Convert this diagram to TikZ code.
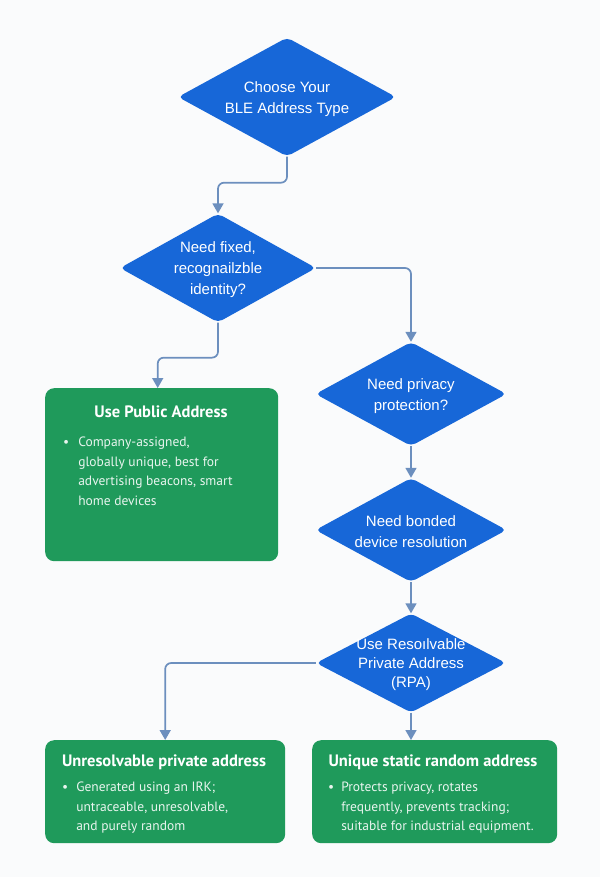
\documentclass[tikz,border=0pt]{standalone}
\usepackage{fontspec}
\setmainfont{Liberation Sans}
\newfontfamily\boxfont{PT Sans}
\usetikzlibrary{positioning,shapes.geometric,arrows.meta}

\definecolor{askblue}{HTML}{1767D8}
\definecolor{pickgreen}{HTML}{1F9A5B}
\definecolor{linkblue}{HTML}{6C8FBE}
\definecolor{paper}{HTML}{FAFBFC}

\begin{document}
\begin{tikzpicture}[x=1pt, y=-1pt,
  question/.style={diamond, aspect=1.8, fill=askblue, rounded corners=5pt,
    inner sep=0pt, text=white, align=center,
    font=\fontsize{15}{21}\selectfont},
  choice/.style={rectangle, fill=pickgreen, rounded corners=9pt, anchor=north west},
  choicetitle/.style={text=white, font=\boxfont\bfseries\fontsize{16.5}{19}\selectfont},
  choicetext/.style={text=white!90!pickgreen, anchor=north west, inner sep=0pt,
    align=left, font=\boxfont\fontsize{13.5}{19.5}\selectfont},
  link/.style={draw=linkblue, line width=1.7pt, rounded corners=6pt,
    -{Triangle[width=11pt,length=10pt]}}]

  \fill[paper] (0,0) rectangle (600,877);
  \useasboundingbox (0,0) rectangle (600,877);

  % questions
  \node[question, minimum width=218pt, minimum height=119pt] (choose) at (287,97)
    {\strut Choose Your\\BLE Address Type};
  \node[question, minimum width=196pt, minimum height=108pt] (fixed) at (218,268)
    {\strut Need fixed,\\recognailzble\\identity?};
  \node[question, minimum width=191pt, minimum height=104pt] (privacy) at (411,394)
    {\strut Need privacy\\protection?};
  \node[question, minimum width=191pt, minimum height=104pt] (bonded) at (411,530)
    {\strut Need bonded\\device resolution};
  \node[question, minimum width=190pt, minimum height=99pt, inner sep=-9pt,
    font=\fontsize{15}{19}\selectfont] (rpa) at (411,663)
    {\strut Use Resoılvable\\Private Address\\(RPA)};

  % answers
  \node[choice, minimum width=233pt, minimum height=173pt] (public) at (45,388) {};
  \node[choicetitle] (publictitle) at (161,412) {Use Public Address};
  \node[choicetext] (publictext) at (63,433)
    {\begin{tabular}{@{}l@{\hspace{9pt}}l@{}}
     \textbullet & Company-assigned,\\
                 & globally unique, best for\\
                 & advertising beacons, smart\\
                 & home devices
     \end{tabular}};

  \node[choice, minimum width=240pt, minimum height=103pt] (unres) at (45,740) {};
  \node[choicetitle] (unrestitle) at (164,762) {Unresolvable private address};
  \node[choicetext] (unrestext) at (62,778)
    {\begin{tabular}{@{}l@{\hspace{8pt}}l@{}}
     \textbullet & Generated using an IRK;\\
                 & untraceable, unresolvable,\\
                 & and purely random
     \end{tabular}};

  \node[choice, minimum width=245pt, minimum height=103pt] (static) at (312,740) {};
  \node[choicetitle] (statictitle) at (433,762) {Unique static random address};
  \node[choicetext] (statictext) at (328,778)
    {\begin{tabular}{@{}l@{\hspace{7pt}}l@{}}
     \textbullet & Protects privacy, rotates\\
                 & frequently, prevents tracking;\\
                 & suitable for industrial equipment.
     \end{tabular}};

  % links
  \draw[link] (choose.south) -- ++(0,26) -| (fixed.north);
  \draw[link] (fixed.east) -| (privacy.north);
  \draw[link] (fixed.south) -- ++(0,35) -| ([xshift=-4pt]public.north);
  \draw[link] (privacy) -- (bonded);
  \draw[link] (bonded) -- (rpa);
  \draw[link] (rpa.west) -| (unres.north);
  \draw[link] (rpa.south) -- (rpa.south |- static.north);
\end{tikzpicture}
\end{document}
